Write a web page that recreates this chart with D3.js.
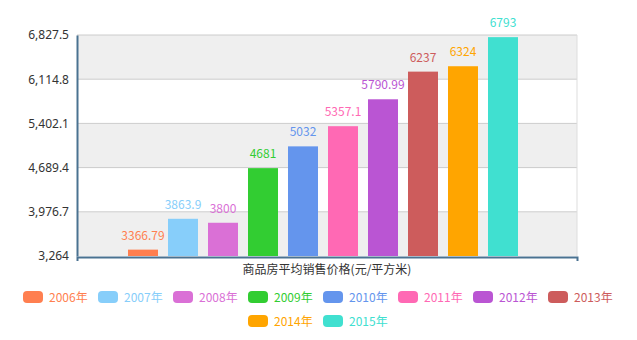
<!DOCTYPE html>
<html>
<head>
<meta charset="utf-8">
<script src="https://cdn.jsdelivr.net/npm/d3@7"></script>
<style>
  body { margin: 0; background: #fff; }
  text { font-family: "Noto Sans CJK SC", "Noto Sans", sans-serif; }
</style>
</head>
<body>
<div id="chart"></div>
<script>
const years = ['2006年', '2007年', '2008年', '2009年', '2010年', '2011年', '2012年', '2013年', '2014年', '2015年'];
const prices = [3366.79, 3863.9, 3800, 4681, 5032, 5357.1, 5790.99, 6237, 6324, 6793];
const colors = ['#ff7f50', '#87cefa', '#da70d6', '#32cd32', '#6495ed', '#ff69b4', '#ba55d3', '#cd5c5c', '#ffa500', '#40e0d0'];
const yTicks = [3264, 3976.7, 4689.4, 5402.1, 6114.8, 6827.5];
const category = '商品房平均销售价格(元/平方米)';

const width = 637, height = 340;
const plot = {left: 77, right: 577, top: 35, bottom: 256};

const svg = d3.select('#chart').append('svg')
  .attr('width', width)
  .attr('height', height);

const y = d3.scaleLinear()
  .domain([yTicks[0], yTicks[yTicks.length - 1]])
  .range([plot.bottom, plot.top]);

const x = d3.scaleBand()
  .domain(years)
  .range([123, 523])
  .paddingInner(0.25)
  .paddingOuter(0.125);

// alternating split areas
const bands = d3.pairs(yTicks);
svg.append('g').selectAll('rect')
  .data(bands)
  .enter().append('rect')
  .attr('x', plot.left)
  .attr('width', plot.right - plot.left)
  .attr('y', d => y(d[1]))
  .attr('height', d => y(d[0]) - y(d[1]))
  .attr('fill', (d, i) => i % 2 === 0 ? '#efefef' : '#ffffff');

// grid lines
svg.append('g').selectAll('line')
  .data(yTicks.slice(1))
  .enter().append('line')
  .attr('x1', plot.left).attr('x2', plot.right)
  .attr('y1', d => y(d)).attr('y2', d => y(d))
  .attr('stroke', '#cccccc');
svg.append('line')
  .attr('x1', plot.right).attr('x2', plot.right)
  .attr('y1', plot.top).attr('y2', plot.bottom)
  .attr('stroke', '#dddddd');

// bars
svg.append('g').selectAll('rect')
  .data(prices)
  .enter().append('rect')
  .attr('x', (d, i) => x(years[i]))
  .attr('width', x.bandwidth())
  .attr('y', d => y(d))
  .attr('height', d => y.range()[0] - y(d))
  .attr('fill', (d, i) => colors[i]);

// value labels
svg.append('g').selectAll('text')
  .data(prices)
  .enter().append('text')
  .attr('x', (d, i) => x(years[i]) + x.bandwidth() / 2)
  .attr('y', d => y(d) - 10)
  .attr('text-anchor', 'middle')
  .attr('font-size', 12)
  .attr('fill', (d, i) => colors[i])
  .text(d => d);

// y axis
const yAxis = svg.append('g')
  .attr('transform', 'translate(' + plot.left + ',0)')
  .call(d3.axisLeft(y).tickValues(yTicks).tickSize(0).tickPadding(8).tickFormat(d3.format(',')));
yAxis.select('.domain').attr('stroke', '#4a7291').attr('stroke-width', 2);
yAxis.selectAll('text').attr('font-size', 12).attr('fill', '#333')
  .style('font-family', '"Noto Sans", sans-serif');

// x axis
const xAxisScale = d3.scaleBand().domain([category]).range([plot.left, plot.right]);
const xAxis = svg.append('g')
  .attr('transform', 'translate(0,' + (plot.bottom + 1) + ')')
  .call(d3.axisBottom(xAxisScale).tickSize(0).tickPadding(8).tickSizeOuter(4));
xAxis.select('.domain').attr('stroke', '#4a7291').attr('stroke-width', 2);
xAxis.selectAll('text').attr('font-size', 12).attr('fill', '#333');

// legend
const rows = [years.slice(0, 8), years.slice(8)];
const itemStep = 75;
rows.forEach((row, r) => {
  const startX = 318 - (row.length * itemStep - 10) / 2;
  const g = svg.append('g');
  const items = g.selectAll('g')
    .data(row)
    .enter().append('g')
    .attr('transform', (d, i) => 'translate(' + (startX + i * itemStep) + ',' + (291 + r * 24) + ')');
  items.append('rect')
    .attr('width', 20).attr('height', 12)
    .attr('rx', 4)
    .attr('fill', d => colors[years.indexOf(d)]);
  items.append('text')
    .attr('x', 26).attr('y', 10.5)
    .attr('font-size', 12)
    .attr('fill', d => colors[years.indexOf(d)])
    .text(d => d);
});
</script>
</body>
</html>
